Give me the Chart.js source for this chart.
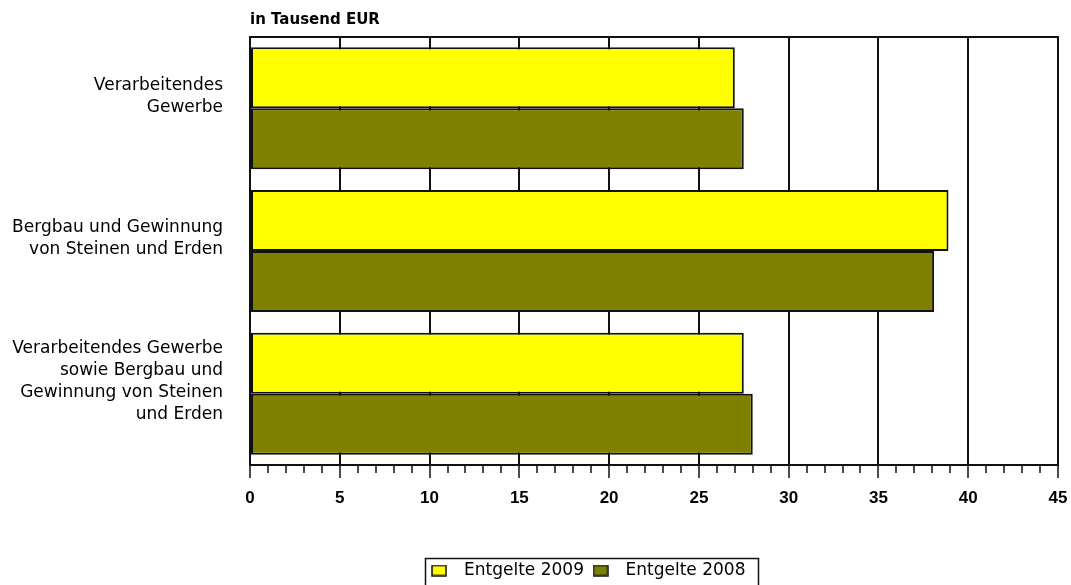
<!DOCTYPE html>
<html><head><meta charset="utf-8">
<script src="https://cdn.jsdelivr.net/npm/chart.js@4/dist/chart.umd.min.js"></script>
<style>html,body{margin:0;padding:0;background:#fff}#wrap{width:1071px;height:585px}</style>
</head><body><div id="wrap"><canvas id="c" width="1071" height="585"></canvas></div>
<script>
const categories = [
  ["Verarbeitendes", "Gewerbe"],
  ["Bergbau und Gewinnung", "von Steinen und Erden"],
  ["Verarbeitendes Gewerbe", "sowie Bergbau und", "Gewinnung von Steinen", "und Erden"]
];
const seriesNames = ["Entgelte 2009", "Entgelte 2008"];
const values2009 = [27.0, 38.9, 27.5];
const values2008 = [27.5, 38.1, 28.0];
const seriesColors = ["#ffff00", "#808000"];
const xMin = 0, xMax = 45, xMajorStep = 5, xMinorStep = 1;
const unitLabel = "in Tausend EUR";

const INK = '#111111';
const isMajor = v => Math.abs(v % xMajorStep) < 1e-9;
const PAD_BOTTOM = -4;
const LEGEND_SHIFT = 55;
const CHART_BOTTOM = 465;

function swatch(fill) {
  const c = document.createElement('canvas');
  c.width = 16; c.height = 12;
  const g = c.getContext('2d');
  g.fillStyle = fill; g.fillRect(1, 1, 14, 10);
  g.strokeStyle = INK; g.lineWidth = 1.5; g.strokeRect(1, 1, 14, 10);
  return c;
}

const legendTweak = {
  id: 'legendTweak',
  afterLayout(chart) {
    if (chart.legend) { chart.legend.left += LEGEND_SHIFT; chart.legend.right += LEGEND_SHIFT; }
  },
  afterDraw(chart) {
    const hb = chart.legend && chart.legend.legendHitBoxes;
    if (!hb || !hb.length) return;
    let l = Infinity, r = -Infinity, t = Infinity;
    hb.forEach(h => { l = Math.min(l, h.left); r = Math.max(r, h.left + h.width); t = Math.min(t, h.top); });
    const ctx = chart.ctx;
    ctx.save();
    ctx.strokeStyle = INK;
    ctx.lineWidth = 1.5;
    ctx.strokeRect(Math.round(l + 2) + 0.5, Math.round(t - 4) + 0.5, Math.round(r - l + 10), 60);
    ctx.restore();
  }
};

new Chart(document.getElementById('c'), {
  type: 'bar',
  data: {
    labels: categories,
    datasets: [
      { label: seriesNames[0], data: values2009, backgroundColor: seriesColors[0], borderColor: INK, borderWidth: 2, borderSkipped: false, categoryPercentage: 0.855, barPercentage: 1.0 },
      { label: seriesNames[1], data: values2008, backgroundColor: seriesColors[1], borderColor: INK, borderWidth: 2, borderSkipped: false, categoryPercentage: 0.855, barPercentage: 1.0 }
    ]
  },
  options: {
    indexAxis: 'y',
    responsive: false,
    animation: false,
    devicePixelRatio: 1,
    layout: { padding: { left: 0, right: 13, top: 0, bottom: PAD_BOTTOM } },
    plugins: {
      title: { display: false },
      tooltip: { enabled: false },
      legend: {
        position: 'bottom',
        labels: {
          usePointStyle: true, pointStyleWidth: 33, boxHeight: 12, padding: 0, color: '#000',
          font: { family: 'DejaVu Sans', size: 17 },
          generateLabels: chart => Chart.defaults.plugins.legend.labels.generateLabels(chart)
            .map((it, i) => Object.assign({}, it, { pointStyle: swatch(seriesColors[i]) }))
        }
      }
    },
    scales: {
      x: {
        type: 'linear', position: 'bottom', min: xMin, max: xMax,
        ticks: {
          stepSize: xMinorStep, autoSkip: false, maxRotation: 0, padding: 10, color: '#000',
          font: { family: 'Liberation Sans', size: 17, weight: 'bold' },
          callback: v => isMajor(v) ? String(v) : ''
        },
        grid: {
          color: ctx => (ctx.tick && isMajor(ctx.tick.value)) ? INK : 'rgba(0,0,0,0)',
          lineWidth: 2,
          tickColor: INK, tickWidth: 1.5, tickLength: 13,
          tickBorderDash: ctx => (ctx.tick && isMajor(ctx.tick.value)) ? [] : [7, 100]
        },
        border: { display: true, color: INK, width: 2 },
        afterFit: s => {
          const lh = s.chart.legend ? s.chart.legend.height : 0;
          s.height = s.chart.height - PAD_BOTTOM - lh - CHART_BOTTOM;
          s.paddingLeft = 0; s.paddingRight = 0;
        }
      },
      xTop: {
        type: 'linear', position: 'top', min: xMin, max: xMax,
        ticks: { display: false },
        grid: { display: true, drawOnChartArea: false, drawTicks: false },
        border: { display: true, color: INK, width: 2 },
        title: { display: true, text: unitLabel, align: 'start', color: '#000',
          font: { family: 'DejaVu Sans', size: 15, weight: 'bold' }, padding: { top: 11, bottom: 0 } },
        afterFit: s => { s.height = 37; s.paddingLeft = 0; s.paddingRight = 0; }
      },
      y: {
        type: 'category', position: 'left', offset: true,
        ticks: { color: '#000', padding: 27, labelOffset: -12,
          font: { family: 'DejaVu Sans', size: 17, lineHeight: 1.3 } },
        grid: { display: false, drawTicks: false },
        border: { display: true, color: INK, width: 2 },
        afterFit: s => { s.width = 250; s.paddingTop = 0; s.paddingBottom = 0; }
      }
    }
  },
  plugins: [legendTweak]
});
</script></body></html>
